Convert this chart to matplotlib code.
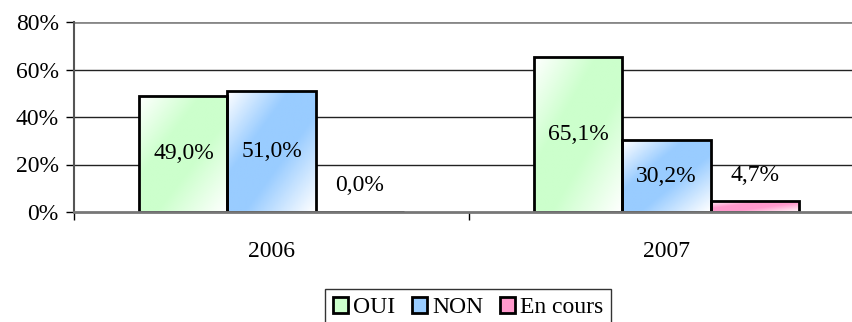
import numpy as np
import matplotlib
matplotlib.use('Agg')
import matplotlib.pyplot as plt
from matplotlib.colors import LinearSegmentedColormap, to_rgb
from matplotlib.patches import Patch

years = ['2006', '2007']
series = ['OUI', 'NON', 'En cours']
oui = [49.0, 65.1]
non = [51.0, 30.2]
en_cours = [0.0, 4.7]
colors = ['#CCFFCC', '#99CCFF', '#FF99CC']

plt.rcParams['font.family'] = ['Liberation Serif', 'DejaVu Serif']
FS = 17

fig = plt.figure(figsize=(8.52, 3.22), dpi=100)
ax = fig.add_axes([74 / 852, 1 - 212 / 322, 790 / 852, 190 / 322])

width = 0.223
x = np.array([0.5, 1.5])
values = [oui, non, en_cours]


def gradient_cmap(c):
    rgb = to_rgb(c)
    return LinearSegmentedColormap.from_list(
        'g', [(0, (1, 1, 1)), (0.35, rgb), (0.6, rgb), (1, (1, 1, 1))])


gx, gy = np.meshgrid(np.linspace(0, 1, 60), np.linspace(0, 1, 60))
grad = (gx + gy) / 2  # top-left -> bottom-right


def fmt(v):
    return f'{v:.1f}%'.replace('.', ',')


for i, (vals, c) in enumerate(zip(values, colors)):
    pos = x + (i - 1) * width
    bars = ax.bar(pos, vals, width, facecolor='none', edgecolor='black',
                  linewidth=2, zorder=4)
    for b, v in zip(bars, vals):
        x0, w = b.get_x(), b.get_width()
        if v > 0:
            im = ax.imshow(grad, cmap=gradient_cmap(c), aspect='auto',
                           extent=[x0, x0 + w, 0, v], origin='upper', zorder=3,
                           interpolation='bilinear')
            im.set_clip_path(b)
        # value in bar centre; tiny bars get the label lifted above
        if v > 10:
            ly = v / 2
        elif v > 0:
            ly = v + 10.5
        else:
            ly = 11
        ax.text(x0 + w / 2, ly, fmt(v), ha='center', va='center',
                fontsize=FS, zorder=5)

ax.set_xlim(0, 2)
ax.set_ylim(0, 80)
ax.set_yticks([0, 20, 40, 60, 80])
ax.set_yticklabels(['0%', '20%', '40%', '60%', '80%'], fontsize=FS)
ax.set_xticks(x)
ax.set_xticklabels(years, fontsize=FS)
ax.set_xticks([0, 1, 2], minor=True)
ax.tick_params(axis='x', which='major', length=0, pad=21)
ax.tick_params(axis='x', which='minor', length=6, direction='out',
               width=1, color='black')
ax.tick_params(axis='y', length=6, direction='out', width=1, pad=5, color='black')

for yv in [20, 40, 60]:
    ax.axhline(yv, color='#222222', linewidth=1, zorder=1)
ax.axhline(80, color='#888888', linewidth=2, zorder=1)

for s in ['top', 'right']:
    ax.spines[s].set_visible(False)
ax.spines['left'].set_color('#555555')
ax.spines['left'].set_linewidth(1.5)
ax.spines['bottom'].set_color('#777777')
ax.spines['bottom'].set_linewidth(2)
ax.spines['bottom'].set_zorder(6)

handles = [Patch(facecolor=c, edgecolor='black', linewidth=2, label=s)
           for s, c in zip(series, colors)]
leg = fig.legend(handles=handles, loc='upper center', ncol=3,
                 bbox_to_anchor=(468 / 852, 1 - 289 / 322), fontsize=FS,
                 frameon=True, fancybox=False, edgecolor='black',
                 handlelength=0.65, handleheight=0.65, handletextpad=0.2,
                 columnspacing=0.7, borderpad=0.35, borderaxespad=0)
leg.get_frame().set_linewidth(1)

fig.savefig('out.png', dpi=100)
